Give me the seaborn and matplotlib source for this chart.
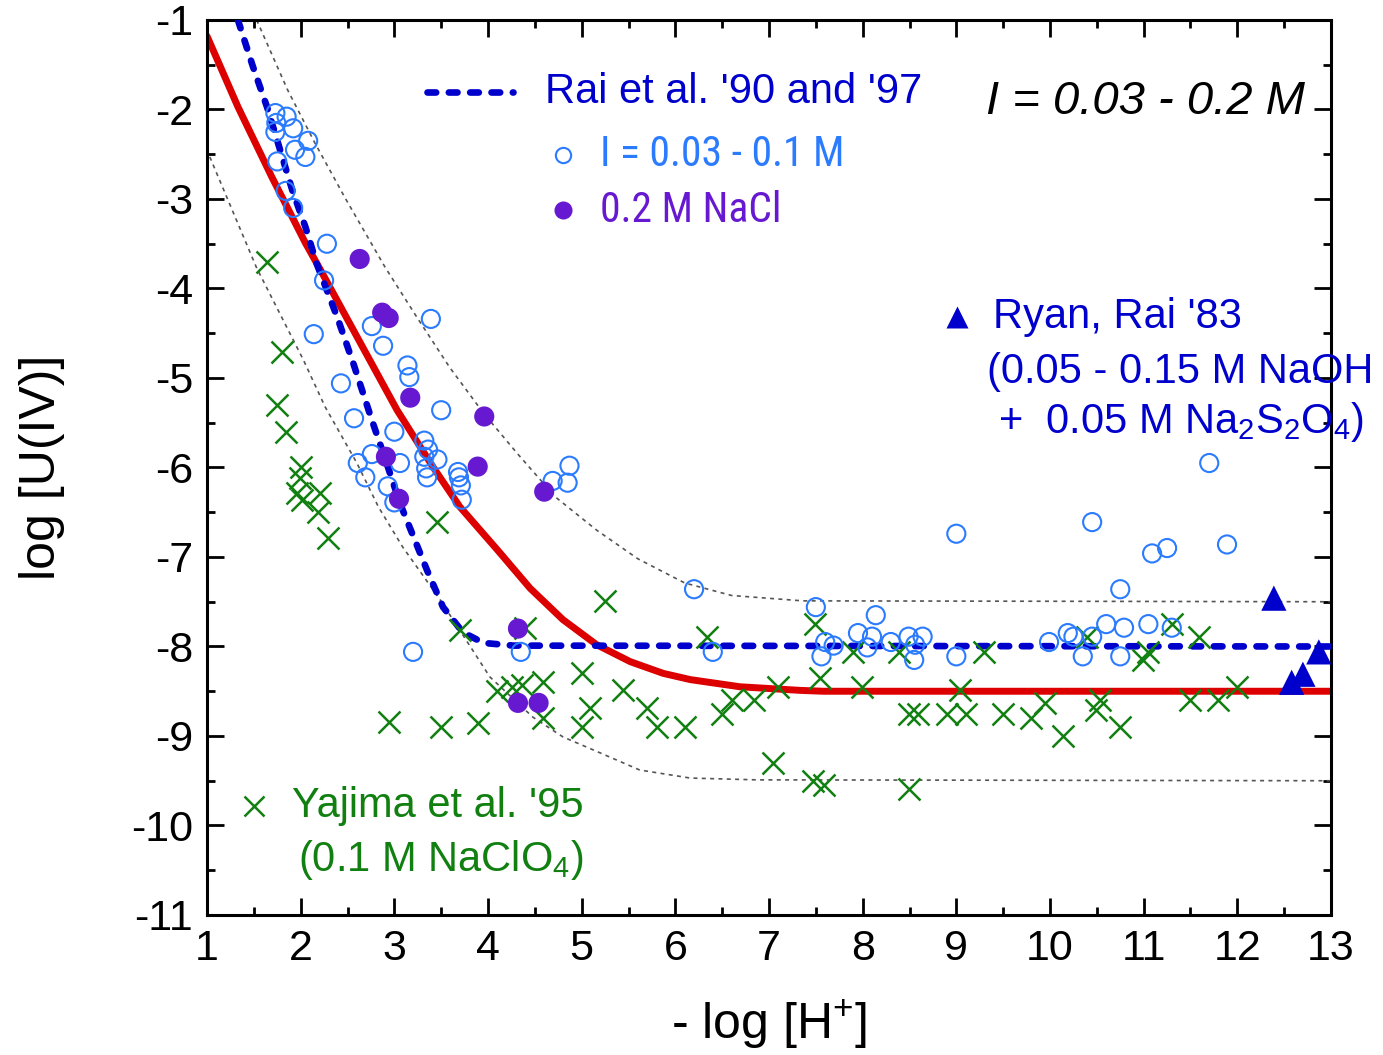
import numpy as np
import matplotlib
matplotlib.use("Agg")
import matplotlib.pyplot as plt
from matplotlib import font_manager as fm
import seaborn as sns

# ---------------- data ----------------
# Open circles: Rai et al., I = 0.03 - 0.1 M
circ_x = [1.73, 1.85, 1.74, 1.73, 1.92, 2.08, 1.94, 2.05, 1.75, 1.84, 1.92, 2.28, 2.25,
          2.14, 2.76, 2.88, 3.39, 3.14, 3.16, 2.43, 2.57, 3.50, 3.00, 3.32, 3.36, 2.61,
          2.76, 3.06, 2.69, 3.32, 3.46, 3.34, 3.35, 3.68, 3.69, 3.71, 3.72, 2.93, 3.00,
          4.87, 4.69, 4.85, 3.20, 4.35, 6.40, 6.20, 7.50, 7.60, 7.69, 7.56, 7.95, 8.14,
          8.10, 8.05, 8.30, 8.49, 8.64, 8.56, 8.55, 9.00, 9.00, 9.99, 10.19, 10.25, 10.45,
          10.60, 10.79, 11.05, 11.30, 10.35, 10.75, 10.45, 11.09, 11.25, 11.89, 10.75, 11.70]
circ_y = [-2.04, -2.08, -2.15, -2.25, -2.21, -2.35, -2.45, -2.53, -2.58, -2.91, -3.10, -3.50, -3.91,
          -4.51, -4.42, -4.64, -4.34, -4.86, -4.99, -5.06, -5.45, -5.36, -5.60, -5.70, -5.80, -5.95,
          -5.85, -5.95, -6.11, -5.88, -5.91, -6.01, -6.11, -6.05, -6.11, -6.20, -6.36, -6.21, -6.39,
          -5.98, -6.15, -6.17, -8.06, -8.06, -8.06, -7.36, -7.56, -7.95, -7.99, -8.11, -7.85, -7.65,
          -7.89, -8.01, -7.95, -7.89, -7.89, -7.98, -8.15, -8.11, -6.74, -7.95, -7.85, -7.89, -7.89,
          -7.75, -7.79, -7.75, -7.79, -8.11, -8.11, -6.61, -6.96, -6.90, -6.86, -7.36, -5.95]

# Filled circles: 0.2 M NaCl
nacl_x = [2.63, 2.87, 2.94, 3.17, 3.96, 2.91, 3.89, 3.05, 4.60, 4.32, 4.32, 4.54]
nacl_y = [-3.67, -4.27, -4.33, -5.22, -5.43, -5.88, -5.99, -6.35, -6.27, -7.80, -8.63, -8.63]

# Triangles: Ryan, Rai '83
ryan_x = [12.39, 12.87, 12.70, 12.58]
ryan_y = [-7.46, -8.06, -8.31, -8.40]

# Crosses: Yajima et al. '95
yaj_x = [1.64, 1.80, 1.75, 1.84, 2.00, 1.99, 1.96, 2.01, 2.21, 2.19, 2.29, 3.46, 3.70, 4.40,
         5.25, 4.10, 4.26, 4.36, 4.59, 5.00, 5.44, 2.94, 3.50, 3.89, 4.59, 5.09, 5.00, 5.70,
         5.80, 6.10, 6.34, 6.61, 6.50, 6.84, 7.10, 7.49, 7.54, 7.90, 7.99, 8.39, 8.49, 8.59,
         8.90, 9.10, 9.04, 9.30, 9.50, 9.80, 9.95, 10.14, 10.40, 10.53, 10.49, 10.75, 10.99,
         11.05, 11.30, 11.59, 11.49, 11.79, 12.00, 7.04, 7.47, 7.59, 8.49]
yaj_y = [-3.70, -4.71, -5.30, -5.60, -5.99, -6.12, -6.29, -6.36, -6.29, -6.50, -6.79, -6.61, -7.82, -7.79,
         -7.49, -8.50, -8.45, -8.43, -8.40, -8.30, -8.49, -8.84, -8.90, -8.86, -8.80, -8.69, -8.90, -8.69,
         -8.90, -8.90, -7.89, -8.60, -8.75, -8.60, -8.45, -7.75, -8.35, -8.06, -8.45, -8.06, -8.75, -8.75,
         -8.75, -8.75, -8.49, -8.06, -8.75, -8.80, -8.63, -9.00, -7.89, -8.60, -8.71, -8.90, -8.15,
         -8.06, -7.75, -7.89, -8.60, -8.60, -8.45, -9.30, -9.50, -9.55, -9.59]

# Red model curve
red_x = [1.00, 1.33, 1.69, 2.05, 2.21, 2.56, 3.03, 3.41, 3.70, 4.10, 4.45, 4.80, 5.16,
         5.52, 5.87, 6.16, 6.69, 7.33, 7.58, 13.0]
red_y = [-1.18, -1.97, -2.75, -3.49, -3.79, -4.46, -5.36, -5.99, -6.44, -6.92, -7.35, -7.70, -7.98,
         -8.17, -8.30, -8.37, -8.45, -8.49, -8.50, -8.50]

# Blue dashed curve: Rai et al. '90 and '97
rai_x = [1.33, 1.49, 1.64, 1.78, 1.91, 2.05, 2.17, 2.39, 2.56, 2.76, 2.93, 3.06, 3.35,
         3.52, 3.73, 3.95, 4.27, 13.0]
rai_y = [-1.00, -1.52, -1.97, -2.45, -2.90, -3.31, -3.72, -4.32, -4.83, -5.47, -5.99, -6.40, -7.15,
         -7.56, -7.84, -7.96, -7.99, -8.00]

# Gray dotted envelope curves
up_x = [1.53, 1.86, 2.15, 2.47, 2.90, 3.24, 3.59, 3.95, 4.31, 4.72, 5.16, 5.60, 6.10,
        6.60, 7.36, 13.0]
up_y = [-1.00, -1.78, -2.37, -2.98, -3.76, -4.32, -4.88, -5.39, -5.84, -6.33, -6.70, -7.02, -7.29,
        -7.43, -7.49, -7.50]
lo_x = [1.03, 1.30, 1.53, 2.03, 2.26, 2.60, 2.83, 3.09, 3.24, 3.49, 3.78, 4.02, 4.48, 4.80,
        5.20, 5.62, 6.16, 6.87, 13.0]
lo_y = [-2.53, -3.20, -3.77, -4.80, -5.32, -5.95, -6.44, -6.89, -7.11, -7.48, -7.95, -8.34, -8.79, -9.01,
        -9.19, -9.38, -9.47, -9.49, -9.50]

x_ticks = list(range(1, 14))
y_ticks = list(range(-11, 0))

# ---------------- colours ----------------
C_RAI = "#0000cc"
C_CIRC = "#2b7bff"
C_NACL = "#6619d0"
C_YAJ = "#118011"
C_RED = "#dd0000"
C_GRAY = "#555555"

# ---------------- style ----------------
sns.set_style("ticks")
names = {f.name for f in fm.fontManager.ttflist}
main_font = "Liberation Sans" if "Liberation Sans" in names else "DejaVu Sans"
narrow_font = None
for cand in ["Liberation Sans Narrow", "Roboto Condensed", "DejaVu Sans Condensed"]:
    if cand in names:
        narrow_font = cand
        break
plt.rcParams["font.family"] = [main_font, "DejaVu Sans"]
plt.rcParams["mathtext.default"] = "regular"
plt.rcParams["axes.unicode_minus"] = False
plt.rcParams["text.color"] = "black"
plt.rcParams["axes.labelcolor"] = "black"
plt.rcParams["xtick.color"] = "black"
plt.rcParams["ytick.color"] = "black"

fig = plt.figure(figsize=(13.83, 10.55), dpi=100)
ax = fig.add_axes([207 / 1383, 1 - 915 / 1055, 1124 / 1383, 895 / 1055])

DASH = (0, (1.3, 1.9))
LW_RAI = 4.8

# ---------------- curves ----------------
sns.lineplot(x=up_x, y=up_y, ax=ax, color=C_GRAY, linewidth=1.2,
             linestyle=(0, (2.4, 2.6)), sort=False, estimator=None, zorder=1)
sns.lineplot(x=lo_x, y=lo_y, ax=ax, color=C_GRAY, linewidth=1.2,
             linestyle=(0, (2.4, 2.6)), sort=False, estimator=None, zorder=1)
sns.lineplot(x=red_x, y=red_y, ax=ax, color=C_RED, linewidth=5.0,
             sort=False, estimator=None, zorder=2, solid_joinstyle="round")
sns.lineplot(x=rai_x, y=rai_y, ax=ax, color=C_RAI, linewidth=LW_RAI,
             linestyle=DASH, dash_capstyle="round",
             sort=False, estimator=None, zorder=3)

# ---------------- points ----------------
sns.scatterplot(x=yaj_x, y=yaj_y, ax=ax, marker="x", color=C_YAJ, s=250,
                linewidth=1.8, legend=False, zorder=4)
sns.scatterplot(x=circ_x, y=circ_y, ax=ax, marker="o", s=170, facecolor="none",
                edgecolor=C_CIRC, linewidth=1.5, legend=False, zorder=5)
sns.scatterplot(x=nacl_x, y=nacl_y, ax=ax, marker="o", s=210, color=C_NACL,
                edgecolor="none", linewidth=0, legend=False, zorder=5)
sns.scatterplot(x=ryan_x, y=ryan_y, ax=ax, marker="^", s=330, color=C_RAI,
                edgecolor="none", linewidth=0, legend=False, zorder=5)

# ---------------- axes ----------------
ax.set_xlim(1, 13)
ax.set_ylim(-11, -1)
ax.set_xticks(x_ticks)
ax.set_yticks(y_ticks)
ax.set_xticks(np.arange(1.5, 13, 1.0), minor=True)
ax.set_yticks(np.arange(-10.5, -1, 1.0), minor=True)
ax.tick_params(which="both", direction="in", top=True, right=True, width=2.0,
               labelsize=31, pad=10, color="black", labelcolor="black")
ax.tick_params(which="major", length=12)
ax.tick_params(which="minor", length=6)
for sp in ax.spines.values():
    sp.set_linewidth(2.2)
    sp.set_color("black")

ax.set_xlabel("- log [H$^{+}$]", fontsize=36, color="black")
ax.set_ylabel("log [U(IV)]", fontsize=36, color="black")
ax.xaxis.set_label_coords(0.5, -0.093)
ax.yaxis.set_label_coords(-0.126, 0.5)

# ---------------- in-plot key ----------------
T = ax.transAxes
ax.plot([0.196, 0.272], [0.9196, 0.9196], transform=T, color=C_RAI, linewidth=LW_RAI,
        linestyle=DASH, dash_capstyle="round", clip_on=False)
ax.text(0.3007, 0.9196, "Rai et al. '90 and '97", transform=T, color=C_RAI,
        fontsize=30, va="center", ha="left")

nkw = {}
if narrow_font is not None:
    nkw["family"] = [narrow_font, "DejaVu Sans"]
ax.plot([0.3167], [0.8492], transform=T, marker="o", markersize=11, markerfacecolor="none",
        markeredgecolor=C_CIRC, markeredgewidth=1.5, linestyle="none", clip_on=False)
ax.text(0.3496, 0.8492, "I = 0.03 - 0.1 M", transform=T, color=C_CIRC,
        fontsize=30, va="center", ha="left", **nkw)
ax.plot([0.3167], [0.7877], transform=T, marker="o", markersize=13, markerfacecolor=C_NACL,
        markeredgecolor="none", linestyle="none", clip_on=False)
ax.text(0.3496, 0.7877, "0.2 M NaCl", transform=T, color=C_NACL,
        fontsize=30, va="center", ha="left", **nkw)

ax.text(0.9769, 0.9084, "I = 0.03 - 0.2 M", transform=T, color="black",
        fontsize=34, fontstyle="italic", va="center", ha="right")

ax.plot([0.6673], [0.6682], transform=T, marker="^", markersize=16, color=C_RAI,
        markeredgecolor="none", linestyle="none", clip_on=False)
ax.text(0.6993, 0.6682, "Ryan, Rai '83", transform=T, color=C_RAI,
        fontsize=30, va="center", ha="left")
ax.text(0.6940, 0.6067, "(0.05 - 0.15 M NaOH", transform=T, color=C_RAI,
        fontsize=30, va="center", ha="left", clip_on=False)
ax.text(0.7037, 0.5508, "+  0.05 M Na$_2$S$_2$O$_4$)", transform=T, color=C_RAI,
        fontsize=30, va="center", ha="left", clip_on=False)

ax.plot([0.0418], [0.1218], transform=T, marker="x", markersize=14, color=C_YAJ,
        markeredgewidth=1.8, linestyle="none", clip_on=False)
ax.text(0.0756, 0.1218, "Yajima et al. '95", transform=T, color=C_YAJ,
        fontsize=30, va="center", ha="left")
ax.text(0.0810, 0.0615, "(0.1 M NaClO$_4$)", transform=T, color=C_YAJ,
        fontsize=30, va="center", ha="left")

fig.savefig("out.png", dpi=100)
